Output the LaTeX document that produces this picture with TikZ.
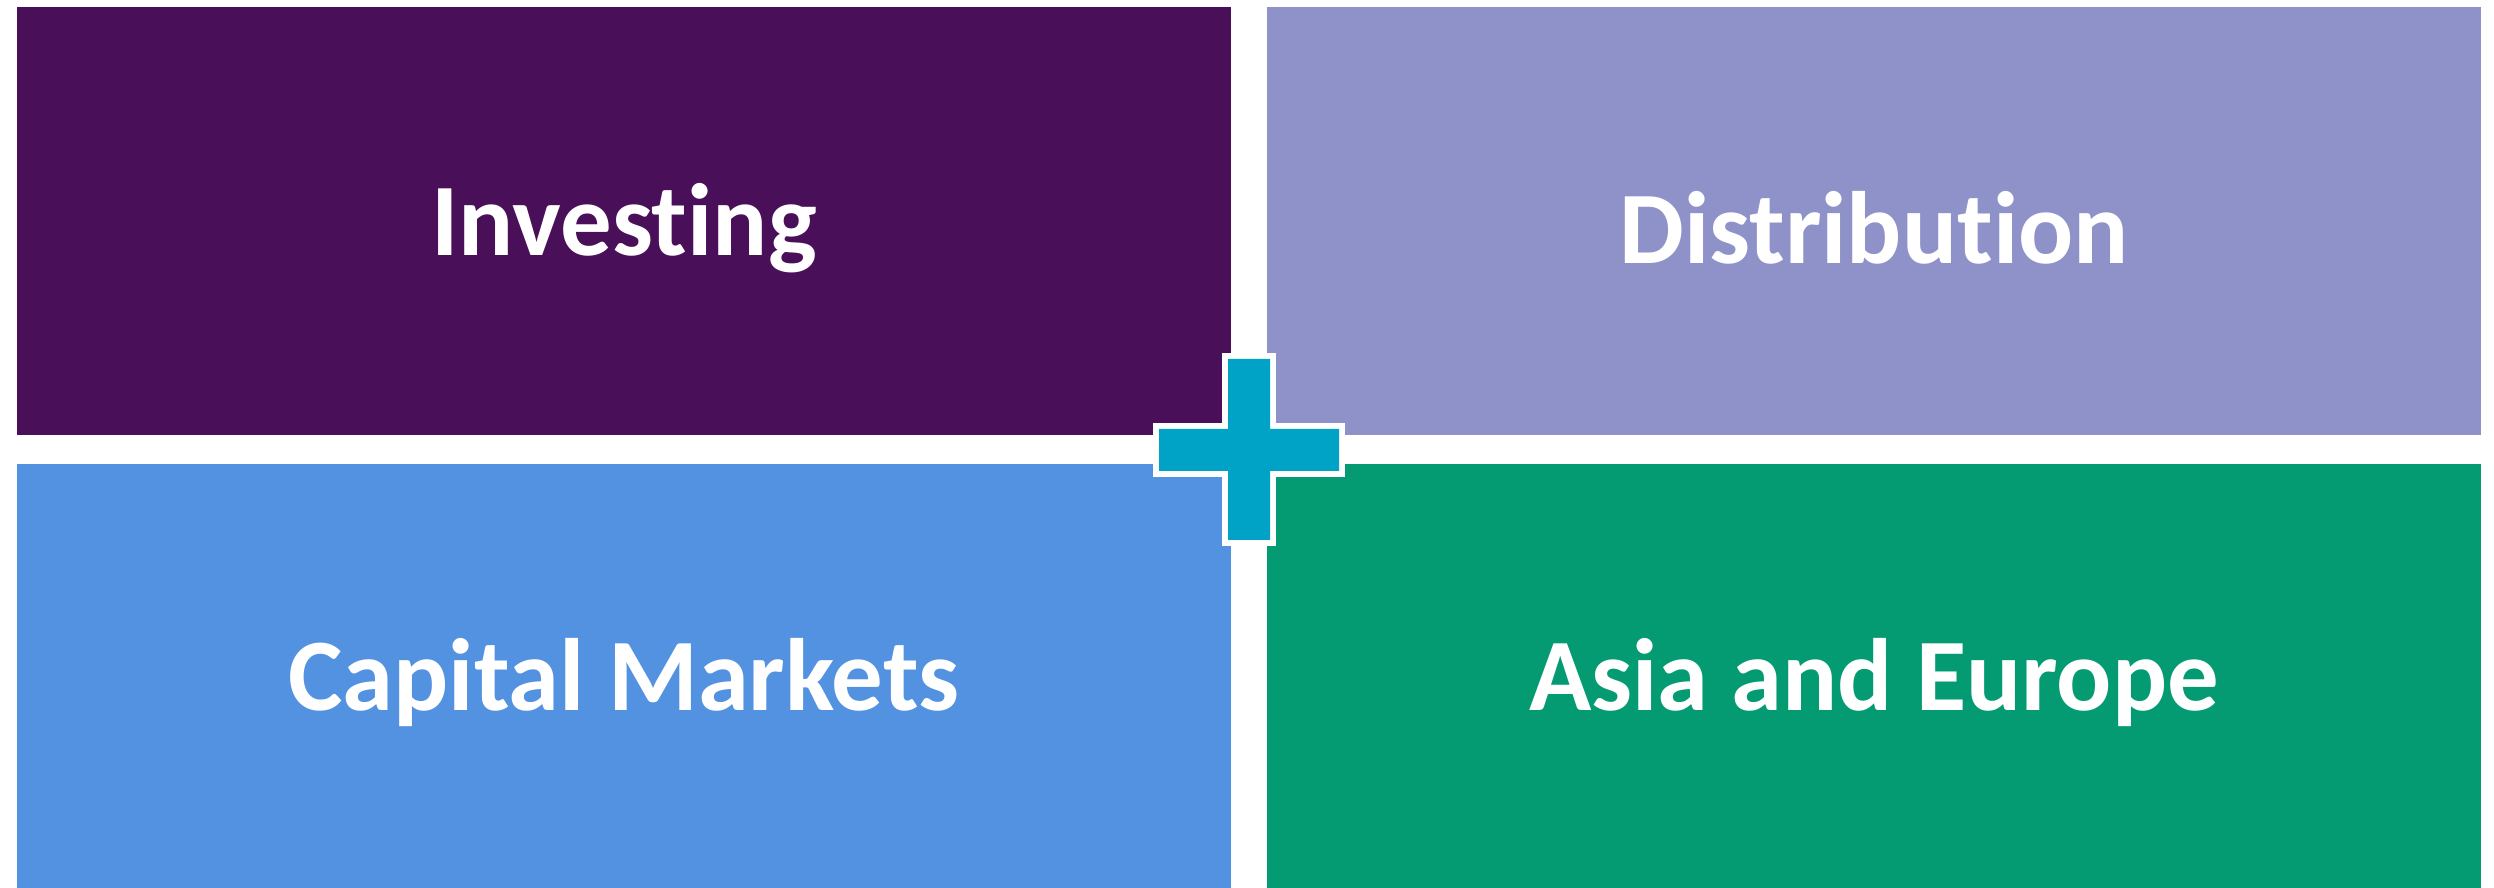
\documentclass[tikz,border=0pt]{standalone}
\usepackage{fontspec}
\setmainfont{Carlito}[Ligatures={NoCommon}]
\usepackage{xcolor}
\usepackage{tikz}
\definecolor{clrInvest}{RGB}{73,15,89}
\definecolor{clrDistr} {RGB}{143,145,201}
\definecolor{clrCapMkt}{RGB}{83,146,224}
\definecolor{clrAsiaEu}{RGB}{4,155,115}
\definecolor{clrPlus}  {RGB}{0,163,198}
\usetikzlibrary{positioning}

\begin{document}
\begin{tikzpicture}[
  x=0.25bp, y=-0.25bp,
  every node/.style = {font=\fontsize{25.8}{31}\selectfont\bfseries},
  %--- node styles ---------------------------------------------------
  quadst/.style   = {rectangle, inner sep=0pt, outer sep=0pt,
                     minimum width=303.6bp, text=white,
                     align=center},
  investst/.style = {quadst, fill=clrInvest, minimum height=107bp},
  distrst/.style  = {quadst, fill=clrDistr,  minimum height=107bp},
  capst/.style    = {quadst, fill=clrCapMkt, minimum height=106bp},
  asiast/.style   = {quadst, fill=clrAsiaEu, minimum height=106bp},
  lblst/.style    = {text=white, yshift=-1.7bp},
  plusst/.style   = {fill=clrPlus,
                     preaction={draw=white, line width=2.9bp,
                                line join=miter}},
]

\useasboundingbox (0,0) rectangle (2494,888);

% ---- Nodes --------------------------------------------------------
\node[investst] (invest) at (624,221)  {};
\node[distrst]  (distr)  at (1874,221) {};
\node[capst]    (capmkt) at (624,676)  {};
\node[asiast]   (asiaeu) at (1874,676) {};

% ---- Labels -------------------------------------------------------
\node[lblst] (investlbl) at (invest) {Investing};
\node[lblst] (distrlbl)  at (distr)  {Distribution};
\node[lblst] (capmktlbl) at (capmkt) {Capital Markets};
\node[lblst] (asiaeulbl) at (asiaeu) {Asia and Europe};

% ---- Plus sign ----------------------------------------------------
\path[plusst] (1228,359) -- (1270,359) -- (1270,429) -- (1339,429)
  -- (1339,471) -- (1270,471) -- (1270,540) -- (1228,540)
  -- (1228,471) -- (1159,471) -- (1159,429) -- (1228,429) -- cycle;

\end{tikzpicture}
\end{document}
